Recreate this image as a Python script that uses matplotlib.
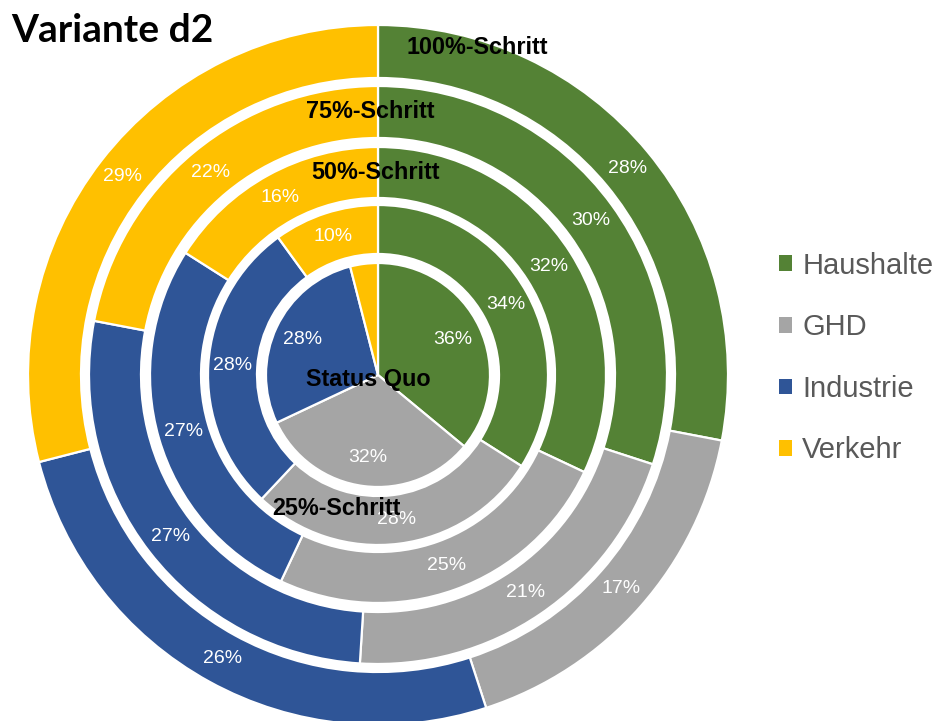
import numpy as np
import matplotlib.pyplot as plt

# Energieverbrauch nach Sektoren, Variante d2
categories = ["Haushalte", "GHD", "Industrie", "Verkehr"]
colors = ["#548235", "#A5A5A5", "#2F5597", "#FFC000"]

steps = ["Status Quo", "25%-Schritt", "50%-Schritt", "75%-Schritt", "100%-Schritt"]
status_quo = [36, 32, 28, 4]
step_25 = [34, 28, 28, 10]
step_50 = [32, 25, 27, 16]
step_75 = [30, 21, 27, 22]
step_100 = [28, 17, 26, 29]
series = [status_quo, step_25, step_50, step_75, step_100]

# ring radii in pixels (inner, outer)
rings = [(0, 112), (121, 170), (177, 228), (237, 289), (297, 350)]
# where the step names sit, relative to the ring's top point
name_offsets = [(-10, -5), (-42, None), (-3, 0), (-8, 0), (99, 4)]

W, H = 937, 721
cx, cy = 378, H - 375

fig = plt.figure(figsize=(W / 100, H / 100), dpi=100)
ax = fig.add_axes([0, 0, 1, 1])
plt.rcParams['font.family'] = ['Liberation Sans', 'DejaVu Sans']

legend_wedges = None
for i, vals in enumerate(series):
    r_in, r_out = rings[i]
    pct_r = (r_in + r_out) / 2 / r_out if r_in > 0 else 0.74
    wedges, texts = ax.pie(
        vals, colors=colors, startangle=90, counterclock=False,
        radius=r_out, center=(cx, cy), labels=None,
        wedgeprops=dict(width=r_out - r_in, edgecolor="white", linewidth=1.6),
    )
    # percentage labels (the tiny Verkehr slice in the middle has none)
    for w, v in zip(wedges, vals):
        if v < 5:
            continue
        ang = np.deg2rad((w.theta1 + w.theta2) / 2)
        rr = r_out * pct_r
        ax.text(cx + rr * np.cos(ang), cy + rr * np.sin(ang), f"{v}%",
                ha="center", va="center", color="white", fontsize=14)
    legend_wedges = wedges

# step names
for i, name in enumerate(steps):
    r_in, r_out = rings[i]
    dx, dy = name_offsets[i]
    if i == 0:
        x, y = cx + dx, cy + dy
    elif dy is None:
        x, y = cx + dx, cy - (r_in + r_out) / 2 + 12
    else:
        x, y = cx + dx, cy + (r_in + r_out) / 2 + dy
    ax.text(x, y, name, ha="center", va="center", fontsize=16.8,
            fontweight="bold", color="black")

ax.set_xlim(0, W)
ax.set_ylim(0, H)
ax.set_aspect("equal")
ax.axis("off")

leg = ax.legend(legend_wedges, categories, loc="center left",
                bbox_to_anchor=(779 / W, 1 - 358 / H), frameon=False,
                fontsize=21, handlelength=0.45, handleheight=0.45,
                handletextpad=0.35, labelspacing=1.15, borderpad=0,
                borderaxespad=0)
for t in leg.get_texts():
    t.set_color("#595959")
for h in leg.legend_handles:
    h.set_linewidth(0)

fig.text(11 / W, 1 - 31 / H, "Variante d2", ha="left", va="center",
         fontsize=28, fontweight="bold", family=["Lato", "DejaVu Sans"])

fig.savefig("out.png", dpi=100)
